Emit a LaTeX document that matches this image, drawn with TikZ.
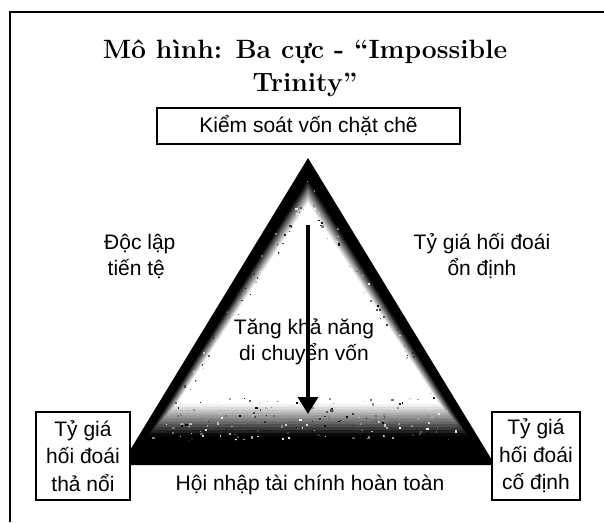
\documentclass[tikz,border=0pt]{standalone}
\usepackage{fontspec}
\newfontfamily\sansvn{Liberation Sans}
\usetikzlibrary{arrows.meta}
\tikzset{
  lbl/.style={font=\sansvn\fontsize{21}{26}\selectfont, inner sep=0pt, align=center},
  box/.style={draw=black, line width=1.1pt, fill=white, font=\sansvn\fontsize{21}{27.5}\selectfont, inner sep=0pt, align=center},
  ttl/.style={font=\bfseries\fontsize{26.5}{33}\selectfont, align=center, inner sep=0pt},
  frame/.style={line width=1.8pt, black}
}
\begin{document}
\begin{tikzpicture}[x=1pt,y=-1pt]
\useasboundingbox (0,0) rectangle (604,522);
\fill[white] (0,0) rectangle (604,522);
% partial frame
\coordinate (fTL) at (10,12);
\coordinate (fTR) at (604,12);
\coordinate (fBL) at (10,522);
\draw[frame] (fTR) -- (fTL) -- (fBL);
% triangle with airbrushed interior
\foreach \i in {0,...,24}{
  \pgfmathsetmacro{\t}{\i/24}
  \pgfmathsetmacro{\ay}{158+\t*52}
  \pgfmathsetmacro{\lx}{121+\t*64}
  \pgfmathsetmacro{\rx}{495-\t*64}
  \pgfmathsetmacro{\by}{465-\t*70}
  \pgfmathsetmacro{\c}{max(0,min(100,(\t-0.4)*220))}
  \fill[white!\c!black] (308,\ay) -- (\lx,\by) -- (\rx,\by) -- cycle;
}
% speckles in the airbrushed band
\pgfmathsetseed{11}
\begin{scope}[even odd rule]
  \clip (308,178) -- (150,440) -- (466,440) -- cycle
        (308,208) -- (185,398) -- (431,398) -- cycle;
  \foreach \k in {1,...,1300}{
    \pgfmathsetmacro{\px}{140+rnd*336}
    \pgfmathsetmacro{\py}{175+rnd*268}
    \pgfmathsetmacro{\g}{rnd*100}
    \pgfmathsetmacro{\s}{0.8+rnd*1.6}
    \fill[white!\g!black] (\px,\py) rectangle ++(\s,\s);
  }
\end{scope}
% title
\node[ttl] (title) at (305,68) {Mô hình: Ba cực - “Impossible\\Trinity”};
% boxes
\node[box, minimum width=303pt, minimum height=36pt] (top) at (308.5,126) {Kiểm soát vốn chặt chẽ};
\node[box, minimum width=94pt, minimum height=88pt] (lb) at (83,456) {Tỷ giá\\hối đoái\\thả nổi};
\node[box, minimum width=88pt, minimum height=88pt] (rb) at (536,456) {Tỷ giá\\hối đoái\\cố định};
% labels
\node[lbl, align=left, anchor=west] (mon) at (104,256) {Độc lập\\ \,tiến tệ};
\node[lbl] (stab) at (482,256) {Tỷ giá hối đoái\\ổn định};
\node[lbl] (fin) at (310,485) {Hội nhập tài chính hoàn toàn};
\node[lbl] (mob) at (304,342) {Tăng khả năng\\di chuyển vốn};
% arrow
\coordinate (aS) at (308,225);
\coordinate (aE) at (308,414);
\draw[line width=3.5pt, -{Triangle[width=20pt,length=17pt]}] (aS) -- (aE);
\end{tikzpicture}
\end{document}
